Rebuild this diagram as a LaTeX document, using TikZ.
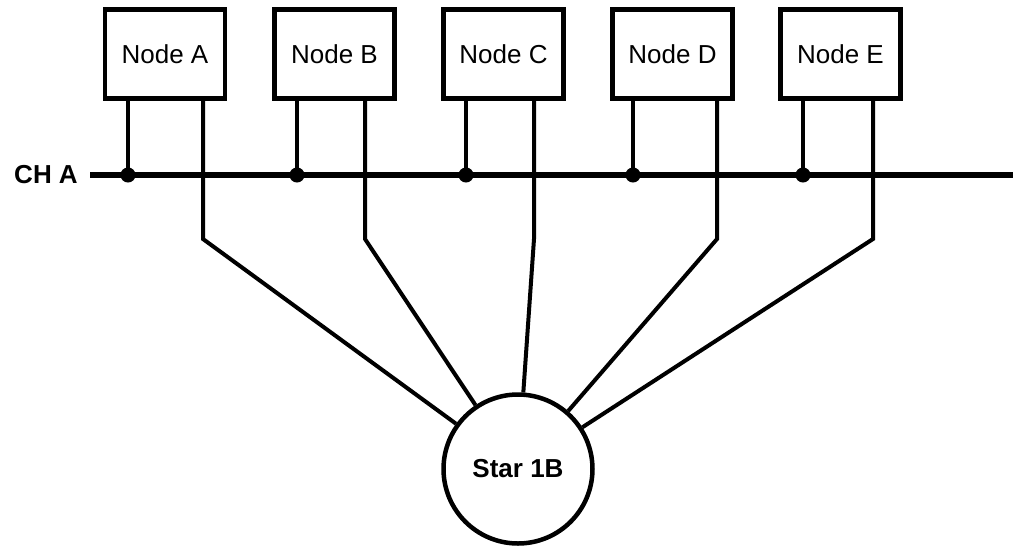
\documentclass[tikz,border=0pt]{standalone}
\usepackage{fontspec}
\setmainfont{Liberation Sans}
\begin{document}
\begin{tikzpicture}[x=1pt,y=-1pt,
  box/.style={draw,line width=4.5pt,minimum width=120pt,minimum height=89pt,inner sep=0pt,font=\fontsize{26}{30}\selectfont},
  leg/.style={line width=4pt},
  bus/.style={line width=5.5pt},
  jdot/.style={fill=black,draw=black,line width=1pt},
  lbl/.style={font=\fontsize{26}{30}\selectfont\bfseries,inner sep=0pt}]
\useasboundingbox (0,0) rectangle (1013,547);
% boxes
\node[box] (A) at (165,54) {Node A};
\node[box] (B) at (334.5,54) {Node B};
\node[box] (C) at (503.5,54) {Node C};
\node[box] (D) at (672.5,54) {Node D};
\node[box] (E) at (840.5,54) {Node E};
% star
\node[draw,circle,line width=4.5pt,minimum size=149pt,inner sep=0pt,lbl] (star) at (518,469) {Star 1B};
% bus
\coordinate (busL) at (90,175);
\coordinate (busR) at (1013,175);
\node[lbl,anchor=east] (cha) at (78,175) {CH A};
\draw[bus] (busL) -- (busR);
% junctions on bus
\coordinate (jA) at (128,175);
\coordinate (jB) at (297,175);
\coordinate (jC) at (466,175);
\coordinate (jD) at (633,175);
\coordinate (jE) at (803,175);
% corners of star legs
\coordinate (kA) at (203,239);
\coordinate (kB) at (365,239);
\coordinate (kC) at (534,239);
\coordinate (kD) at (717,239);
\coordinate (kE) at (873,239);
\foreach \n in {A,B,C,D,E}{
  \draw[leg] (\n.south -| j\n) -- (j\n);
  \fill[jdot] (j\n) circle (7pt);
  \draw[leg,line join=miter] (\n.south -| k\n) -- (k\n) -- (star);
}
\end{tikzpicture}
\end{document}
